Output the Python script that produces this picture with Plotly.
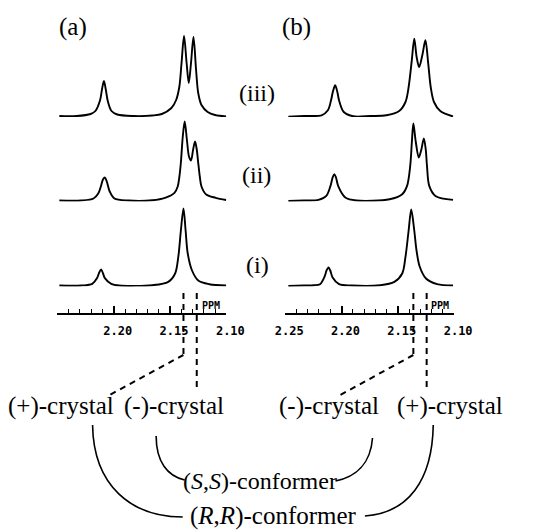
import plotly.graph_objects as go

W, H = 549, 530

# ---------------- data (ppm, intensity) ----------------
a_iii_ppm = [2.2483, 2.2331, 2.2205, 2.2163, 2.2121, 2.2104, 2.2087, 2.2070, 2.2053, 2.2020, 2.1969, 2.1826, 2.1657, 2.1573, 2.1488, 2.1446, 2.1418, 2.1398, 2.1376, 2.1353, 2.1334, 2.1314, 2.1292, 2.1269, 2.1250, 2.1221, 2.1166, 2.1101, 2.1002]
a_iii_int = [1, 1, 3, 6, 17, 28, 36, 27, 16, 6, 2.5, 1, 1.5, 3, 9, 17, 30, 54, 81, 54, 34, 54, 80, 47, 24, 12, 5, 2, 0.5]

a_ii_ppm = [2.2483, 2.2289, 2.2180, 2.2138, 2.2112, 2.2096, 2.2079, 2.2062, 2.2036, 2.1994, 2.1868, 2.1657, 2.1545, 2.1461, 2.1432, 2.1417, 2.1404, 2.1387, 2.1370, 2.1349, 2.1332, 2.1314, 2.1295, 2.1278, 2.1263, 2.1250, 2.1236, 2.1221, 2.1179, 2.1095, 2.1002]
a_ii_int = [1, 1, 3, 8, 16, 22, 24, 20, 10, 3, 1, 1.3, 3.7, 8.7, 15, 25, 39, 65, 80, 60, 45, 41, 52, 60, 52, 38.7, 25, 15, 7, 3.7, 1.5]

a_i_ppm = [2.2483, 2.2289, 2.2191, 2.2148, 2.2129, 2.2112, 2.2095, 2.2079, 2.2022, 2.1952, 2.1657, 2.1516, 2.1455, 2.1427, 2.1404, 2.1381, 2.1362, 2.1343, 2.1305, 2.1250, 2.1151, 2.1002]
a_i_int = [1, 1, 2.7, 8.4, 14, 17, 13, 8.4, 2.7, 1, 1.3, 4.6, 13, 29.6, 56, 78, 56, 33, 16, 6, 2.3, 1]

b_iii_ppm = [2.2472, 2.2331, 2.2177, 2.2121, 2.2093, 2.2075, 2.2056, 2.2037, 2.2022, 2.1980, 2.1896, 2.1741, 2.1601, 2.1488, 2.1432, 2.1404, 2.1376, 2.1354, 2.1333, 2.1311, 2.1282, 2.1255, 2.1230, 2.1208, 2.1179, 2.1123, 2.1010]
b_iii_int = [0.3, 1, 1.7, 6.7, 16.7, 26, 31.7, 25, 16.7, 5, 0.7, 1, 1.7, 6, 15, 30, 56.7, 78.4, 60, 50, 62, 76.7, 53.4, 30, 15, 6, 0.5]

b_ii_ppm = [2.2472, 2.2331, 2.2205, 2.2135, 2.2098, 2.2079, 2.2064, 2.2049, 2.2030, 2.1966, 2.1868, 2.1573, 2.1461, 2.1418, 2.1390, 2.1375, 2.1362, 2.1341, 2.1314, 2.1291, 2.1269, 2.1252, 2.1241, 2.1221, 2.1166, 2.1010]
b_ii_int = [0.5, 1, 1.6, 5.6, 15.6, 24, 27.3, 24, 15.6, 4, 1, 2.3, 7.3, 15.6, 35.6, 60, 78, 60, 44, 52, 63, 52, 35.6, 15.6, 5.6, 1.6]

b_i_ppm = [2.2472, 2.2331, 2.2247, 2.2191, 2.2148, 2.2133, 2.2115, 2.2100, 2.2079, 2.2022, 2.1910, 2.1657, 2.1531, 2.1461, 2.1432, 2.1404, 2.1381, 2.1354, 2.1334, 2.1306, 2.1250, 2.1151, 2.1010]
b_i_int = [0.5, 1, 1.3, 2.3, 10.6, 16, 19, 16, 9, 2.3, 1, 1.3, 4.6, 13, 29.6, 56, 77, 56, 36, 20, 8, 2.3, 1]

ruler_ticks = [2.25, 2.20, 2.15, 2.10]
ruler_text_a = ["", "2.20", "2.15", "2.10"]
ruler_text_b = ["2.25", "2.20", "2.15", "2.10"]
ppm_range = [2.25, 2.10]

marks_a = [2.1381, 2.1263]   # (+)-crystal, (-)-crystal peak positions
marks_b = [2.1362, 2.1244]   # (-)-crystal, (+)-crystal peak positions

panel_labels = ["(a)", "(b)"]
row_labels = ["(iii)", "(ii)", "(i)"]
crystal_labels = ["(+)-crystal", "(-)-crystal", "(-)-crystal", "(+)-crystal"]
conformer_labels = ["(<i>S</i>,<i>S</i>)-conformer", "(<i>R</i>,<i>R</i>)-conformer"]

# ---------------- layout helpers (pixel -> paper) ----------------
def px(x):
    return x / W

def py(y):
    return 1 - y / H

SERIF = "Liberation Serif, Times New Roman, serif"
MONO = "DejaVu Sans Mono, monospace"

fig = go.Figure()

col_dom = {"a": [px(50), px(228)], "b": [px(290), px(468)]}
row_base = [117, 201.5, 286.5]
series = {
    "a": [(a_iii_ppm, a_iii_int), (a_ii_ppm, a_ii_int), (a_i_ppm, a_i_int)],
    "b": [(b_iii_ppm, b_iii_int), (b_ii_ppm, b_ii_int), (b_i_ppm, b_i_int)],
}

layout = {}
k = 0
for col in ["a", "b"]:
    for r in range(3):
        k += 1
        xs, ys = series[col][r]
        fig.add_trace(go.Scatter(
            x=xs, y=ys, mode="lines",
            line=dict(color="black", width=1.9, shape="spline", smoothing=0.9),
            xaxis=f"x{k}", yaxis=f"y{k}", cliponaxis=False, showlegend=False,
            hoverinfo="skip"))
        b = row_base[r]
        layout[f"xaxis{k}"] = dict(domain=col_dom[col], range=ppm_range, visible=False,
                                   anchor=f"y{k}")
        layout[f"yaxis{k}"] = dict(domain=[py(b), py(b - 85)], range=[0, 85], visible=False,
                                   anchor=f"x{k}")

# rulers
for j, col in enumerate(["a", "b"]):
    k = 7 + j
    fig.add_trace(go.Scatter(x=[2.2], y=[0.5], mode="markers", marker=dict(opacity=0),
                             xaxis=f"x{k}", yaxis=f"y{k}", showlegend=False, hoverinfo="skip"))
    layout[f"xaxis{k}"] = dict(
        domain=col_dom[col], range=ppm_range, anchor=f"y{k}",
        showline=True, linecolor="black", linewidth=1.7, showgrid=False, zeroline=False,
        ticks="inside", ticklen=7, tickwidth=1.6, tickcolor="black",
        tickmode="array", tickvals=ruler_ticks,
        ticktext=ruler_text_a if col == "a" else ruler_text_b,
        tickfont=dict(family=MONO, size=12, color="black", weight="bold"),
        ticklabelstandoff=6, ticklabelshift=-4,
        minor=dict(ticks="inside", ticklen=4, tickwidth=1.4, tickcolor="black",
                   dtick=0.01, tick0=2.10, showgrid=False),
    )
    layout[f"yaxis{k}"] = dict(domain=[py(313), py(300)], range=[0, 1], visible=False,
                               anchor=f"x{k}")

fig.update_layout(**layout)

shapes = []
dash = "6px,5px"
# vertical dashed markers (ppm positions)
for j, marks in enumerate([marks_a, marks_b]):
    xr = "x7" if j == 0 else "x8"
    shapes.append(dict(type="line", xref=xr, yref="paper", x0=marks[0], x1=marks[0],
                       y0=py(293), y1=py(355), line=dict(color="black", width=2, dash=dash)))
    shapes.append(dict(type="line", xref=xr, yref="paper", x0=marks[1], x1=marks[1],
                       y0=py(293), y1=py(388), line=dict(color="black", width=2, dash=dash)))
# slanted dashed connectors
shapes.append(dict(type="line", xref="paper", yref="paper", x0=px(182.7), y0=py(355),
                   x1=px(105), y1=py(395), line=dict(color="black", width=2, dash=dash)))
shapes.append(dict(type="line", xref="paper", yref="paper", x0=px(425), y0=py(355),
                   x1=px(348), y1=py(395), line=dict(color="black", width=2, dash=dash)))

def bez(p0, p1, p2, p3):
    f = lambda p: f"{px(p[0]):.5f},{py(p[1]):.5f}"
    return f"M {f(p0)} C {f(p1)} {f(p2)} {f(p3)}"

arc_paths = [
    bez((87, 425), (88, 486), (128, 517), (182, 517)),
    bez((446, 425), (445, 480), (420, 513), (374, 516)),
    bez((154, 436), (154, 462), (166, 476), (184, 480)),
    bez((382, 438), (380, 464), (364, 477), (343, 481)),
]
for p in arc_paths:
    shapes.append(dict(type="path", xref="paper", yref="paper", path=p,
                       line=dict(color="black", width=1.6)))

ann = []
def text(s, x, y, size=24, family=SERIF, weight=None):
    f = dict(family=family, size=size, color="black")
    if weight:
        f["weight"] = weight
    ann.append(dict(text=s, x=px(x), y=py(y), xref="paper", yref="paper",
                    xanchor="center", yanchor="middle", showarrow=False, font=f))

text(panel_labels[0], 66, 27, size=25)
text(panel_labels[1], 302, 27, size=25)
text(row_labels[0], 260, 93)
text(row_labels[1], 260, 175)
text(row_labels[2], 261, 265)
text("PPM", 212, 305, size=10, family=MONO, weight="bold")
text("PPM", 453, 305, size=10, family=MONO, weight="bold")
for lab, cx in zip(crystal_labels, [54, 173, 336, 464]):
    text(lab, cx, 406, size=25)
text(conformer_labels[0], 263, 481)
text(conformer_labels[1], 278, 516, size=25)

fig.update_layout(width=W, height=H, margin=dict(l=0, r=0, t=0, b=0),
                  paper_bgcolor="white", plot_bgcolor="rgba(0,0,0,0)",
                  shapes=shapes, annotations=ann, showlegend=False)

fig.write_html("out.html", config={"displayModeBar": False},
               post_script="document.body.style.margin='0';")
